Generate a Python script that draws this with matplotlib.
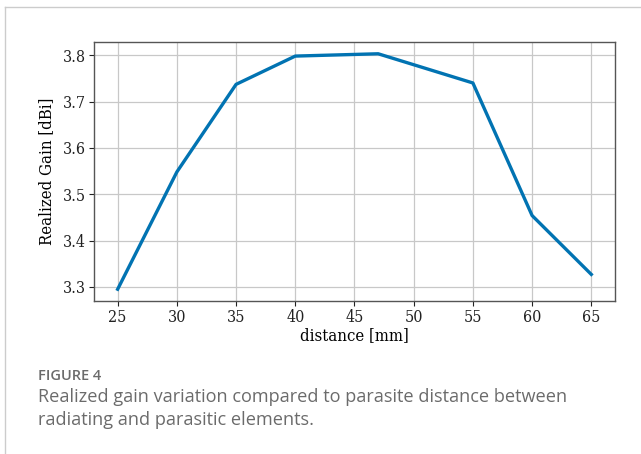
import matplotlib
matplotlib.use("Agg")
import matplotlib.pyplot as plt
from matplotlib.lines import Line2D

# --- data ---
distance = [25, 30, 35, 40, 47, 55, 60, 65]
gain = [3.295, 3.548, 3.737, 3.798, 3.803, 3.740, 3.454, 3.327]
x_ticks = [25, 30, 35, 40, 45, 50, 55, 60, 65]
y_ticks = [3.3, 3.4, 3.5, 3.6, 3.7, 3.8]

plt.rcParams["font.family"] = "DejaVu Serif"
plt.rcParams["font.stretch"] = "condensed"

fig = plt.figure(figsize=(6.41, 4.54), dpi=100)
ax = fig.add_axes([0.1466, 0.337, 0.8128, 0.5705])

ax.plot(distance, gain, color="#0173B2", linewidth=2.4, zorder=3)
ax.set_xticks(x_ticks)
ax.set_yticks(y_ticks)
ax.set_yticklabels([f"{v:.1f}" for v in y_ticks])
ax.grid(True, color="#c8c8c8", linewidth=0.9)
ax.set_axisbelow(True)
for s in ax.spines.values():
    s.set_color("#555555")
    s.set_linewidth(1.0)
ax.tick_params(colors="#222222", length=3.5, width=0.8, labelsize=11.5, pad=2)
ax.set_xlabel("distance [mm]", fontsize=12, labelpad=1)
ax.set_ylabel("Realized Gain [dBi]", fontsize=12, labelpad=6)

# --- frame and caption ---
fig.add_artist(Line2D([5 / 641, 1], [1 - 7 / 454] * 2, color="#cccccc", linewidth=1))
fig.add_artist(Line2D([5 / 641] * 2, [0, 1 - 7 / 454], color="#cccccc", linewidth=1))
cap = dict(family="Open Sans", stretch="normal", color="#6b6b6b", va="center")
fig.text(38 / 641, 1 - 376 / 454, "FIGURE 4", fontsize=10.5, weight="semibold", **cap)
fig.text(38 / 641, 1 - 397 / 454,
         "Realized gain variation compared to parasite distance between",
         fontsize=13.1, **cap)
fig.text(38 / 641, 1 - 420 / 454, "radiating and parasitic elements.",
         fontsize=13.1, **cap)

fig.savefig("out.png", dpi=100)
